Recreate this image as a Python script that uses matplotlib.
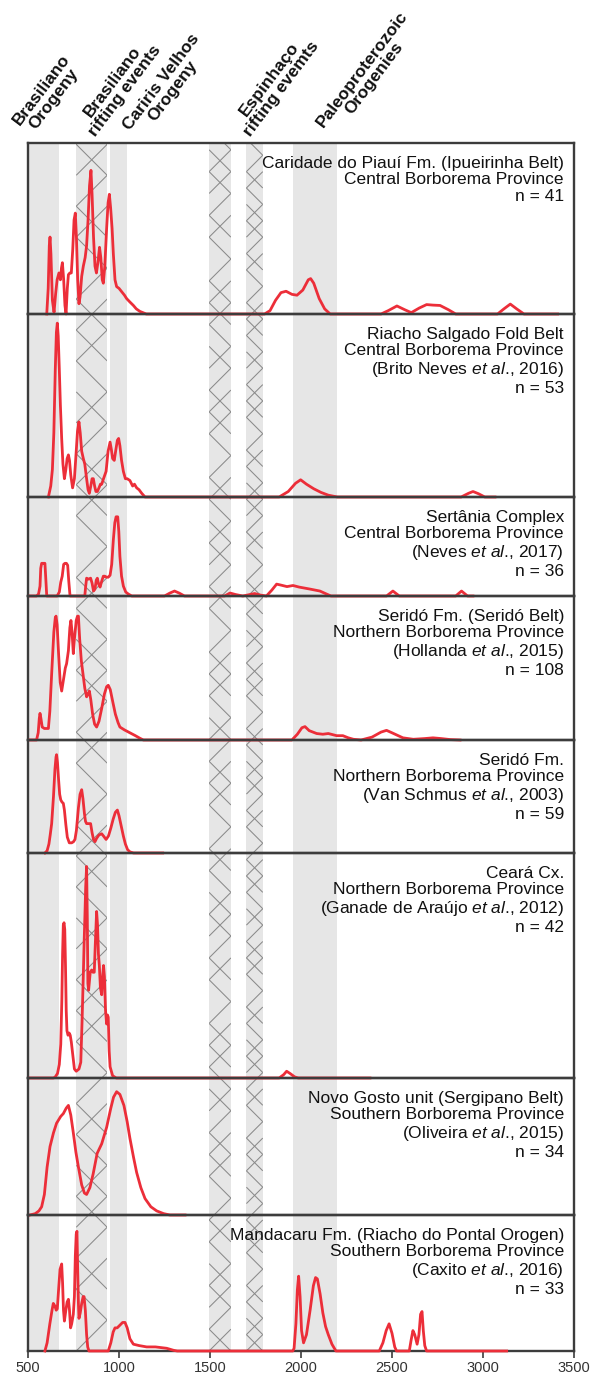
import numpy as np
import matplotlib
matplotlib.use("Agg")
import matplotlib.pyplot as plt
from matplotlib.collections import LineCollection

plt.rcParams['font.family'] = ['Liberation Sans', 'DejaVu Sans']
plt.rcParams['mathtext.fontset'] = 'custom'
plt.rcParams['mathtext.rm'] = 'Liberation Sans'
plt.rcParams['mathtext.it'] = 'Liberation Sans:italic'

# ---------------------------------------------------------------- data
# Probability-density curves (age in Ma, relative density 0-1 of each panel)
caridade_age = [603, 611, 617, 621, 626, 634, 643, 652, 660, 670, 678, 684, 689, 696, 703, 709,
                716, 722, 730, 738, 746, 753, 760, 766, 773, 780, 786, 795, 804, 814, 822, 830,
                838, 846, 852, 860, 868, 876, 884, 893, 900, 908, 914, 922, 932, 940, 947, 954,
                962, 969, 978, 987, 1000, 1015, 1030, 1042, 1060, 1079, 1095, 1115, 1150,
                1800, 1830, 1860, 1890, 1918, 1950, 1978, 2010, 2040, 2053, 2070, 2100, 2130,
                2160, 2440, 2480, 2527, 2570, 2606, 2650, 2690, 2725, 2764, 2810, 2850, 3080,
                3115, 3150, 3185, 3225, 3410]
caridade_den = [0, 0.15, 0.40, 0.45, 0.35, 0.08, 0.01, 0.12, 0.20, 0.24, 0.20, 0.27, 0.30, 0.20,
                0.05, 0.0, 0.15, 0.23, 0.24, 0.24, 0.38, 0.55, 0.59, 0.45, 0.20, 0.06, 0.10, 0.22,
                0.28, 0.33, 0.40, 0.55, 0.75, 0.84, 0.70, 0.45, 0.28, 0.24, 0.30, 0.39, 0.33, 0.20,
                0.18, 0.28, 0.50, 0.65, 0.70, 0.62, 0.50, 0.35, 0.20, 0.16, 0.15, 0.13, 0.11, 0.09,
                0.07, 0.05, 0.03, 0.015, 0.0,
                0, 0.02, 0.08, 0.125, 0.133, 0.115, 0.11, 0.14, 0.20, 0.207, 0.18, 0.09, 0.03,
                0.0, 0, 0.02, 0.047, 0.025, 0.008, 0.035, 0.055, 0.052, 0.05, 0.025, 0.0, 0,
                0.03, 0.058, 0.03, 0.0, 0]

riacho_age = [612, 625, 634, 642, 650, 656, 661, 666, 672, 678, 685, 692, 700, 708, 715, 722,
              728, 735, 745, 755, 765, 772, 780, 787, 795, 804, 812, 822, 830, 837, 845, 852,
              859, 866, 873, 881, 890, 898, 905, 915, 929, 940, 951, 958, 965, 974, 983, 991,
              998, 1005, 1014, 1024, 1035, 1045, 1060, 1075, 1085, 1097, 1110, 1125, 1143,
              1880, 1930, 1970, 1998, 2030, 2070, 2110, 2150, 2200, 2880, 2920, 2945, 2975,
              3010, 3066]
riacho_den = [0, 0.06, 0.15, 0.35, 0.70, 0.90, 0.95, 0.88, 0.70, 0.50, 0.32, 0.18, 0.10, 0.15,
              0.21, 0.23, 0.20, 0.12, 0.05, 0.10, 0.25, 0.36, 0.41, 0.35, 0.25, 0.21, 0.18, 0.10,
              0.04, 0.02, 0.06, 0.10, 0.10, 0.06, 0.03, 0.03, 0.05, 0.07, 0.07, 0.10, 0.14, 0.25,
              0.30, 0.26, 0.21, 0.20, 0.26, 0.31, 0.32, 0.28, 0.20, 0.14, 0.10, 0.10, 0.09, 0.06,
              0.07, 0.05, 0.04, 0.02, 0,
              0, 0.03, 0.075, 0.094, 0.07, 0.045, 0.025, 0.01, 0, 0, 0.02, 0.03, 0.018, 0.0, 0]

sertania_age = [510, 547, 558, 566, 570, 575, 585, 593, 597, 603, 660, 672, 680, 688, 696, 703,
                711, 718, 724, 731, 812, 817, 822, 833, 844, 852, 860, 868, 875, 881, 888, 896,
                905, 914, 922, 932, 941, 951, 960, 969, 977, 984, 993, 999, 1005, 1014, 1024,
                1037, 1051, 1070, 1250, 1280, 1305, 1330, 1360, 1580, 1610, 1640, 1680, 1720,
                1745, 1775, 1810, 1840, 1866, 1890, 1923, 1956, 1990, 2049, 2104, 2140, 2165,
                2470, 2505, 2540, 2850, 2882, 2915, 2945]
sertania_den = [0, 0, 0.02, 0.10, 0.28, 0.33, 0.33, 0.33, 0.20, 0.0, 0, 0.04, 0.14, 0.20, 0.32,
                0.33, 0.33, 0.31, 0.15, 0.0, 0, 0.10, 0.18, 0.17, 0.18, 0.13, 0.05, 0.07, 0.16,
                0.18, 0.12, 0.09, 0.15, 0.20, 0.20, 0.19, 0.19, 0.21, 0.32, 0.57, 0.74, 0.80,
                0.80, 0.65, 0.40, 0.20, 0.10, 0.04, 0.02, 0, 0, 0.03, 0.05, 0.03, 0.0, 0, 0.03,
                0.015, 0, 0.015, 0.025, 0.01, 0, 0.06, 0.12, 0.11, 0.095, 0.106, 0.09, 0.07,
                0.05, 0.02, 0, 0, 0.05, 0.0, 0, 0.05, 0.0, 0]

serido_h_age = [511, 547, 556, 562, 566, 571, 578, 590, 605, 612, 620, 630, 642, 650, 654, 660,
                668, 677, 685, 695, 705, 712, 722, 730, 736, 742, 749, 755, 765, 772, 777, 784,
                793, 804, 812, 822, 830, 837, 845, 855, 866, 877, 890, 905, 920, 932, 941, 952,
                965, 980, 995, 1005, 1030, 1060, 1090, 1115, 1134, 1950, 1980, 2005, 2022, 2045,
                2086, 2120, 2150, 2196, 2230, 2260, 2288, 2330, 2390, 2440, 2470, 2500, 2560,
                2617, 2680, 2725, 2770, 2820, 2874]
serido_h_den = [0, 0, 0.05, 0.15, 0.185, 0.15, 0.09, 0.08, 0.08, 0.08, 0.20, 0.46, 0.75, 0.85,
                0.86, 0.80, 0.60, 0.40, 0.34, 0.42, 0.50, 0.53, 0.62, 0.78, 0.83, 0.75, 0.60,
                0.70, 0.83, 0.86, 0.86, 0.70, 0.55, 0.44, 0.36, 0.30, 0.32, 0.34, 0.28, 0.18,
                0.11, 0.09, 0.13, 0.22, 0.32, 0.37, 0.38, 0.35, 0.27, 0.18, 0.12, 0.09, 0.07,
                0.05, 0.03, 0.012, 0, 0, 0.04, 0.085, 0.093, 0.065, 0.045, 0.04, 0.045, 0.03,
                0.03, 0.015, 0.005, 0, 0.02, 0.055, 0.067, 0.05, 0.015, 0.005, 0.01, 0.015,
                0.01, 0.003, 0]

serido_v_age = [593, 605, 615, 622, 630, 640, 648, 654, 657, 662, 668, 674, 680, 687, 694, 700,
                708, 716, 727, 740, 750, 758, 766, 777, 786, 795, 802, 810, 816, 822, 832, 844,
                852, 860, 868, 877, 890, 905, 915, 929, 942, 955, 968, 980, 991, 1000, 1012,
                1024, 1035, 1047, 1060, 1080, 1240]
serido_v_den = [0, 0.02, 0.08, 0.16, 0.26, 0.50, 0.74, 0.85, 0.87, 0.80, 0.65, 0.52, 0.47,
                0.45, 0.44, 0.38, 0.25, 0.14, 0.09, 0.09, 0.10, 0.12, 0.20, 0.40, 0.52, 0.56,
                0.48, 0.35, 0.28, 0.26, 0.26, 0.26, 0.18, 0.12, 0.10, 0.13, 0.16, 0.17, 0.15,
                0.12, 0.15, 0.22, 0.30, 0.36, 0.38, 0.33, 0.24, 0.15, 0.08, 0.03, 0.01, 0, 0]

ceara_age = [511, 640, 650, 662, 672, 680, 686, 690, 694, 698, 702, 706, 710, 714, 720, 726,
             732, 738, 745, 755, 765, 780, 790, 797, 804, 809, 813, 817, 822, 826, 829, 833,
             842, 850, 857, 864, 870, 877, 882, 887, 892, 898, 905, 910, 915, 920, 926, 932,
             937, 941, 946, 951, 965, 985, 1880, 1905, 1921, 1940, 1965, 1985, 2379]
ceara_den = [0, 0, 0.005, 0.02, 0.06, 0.15, 0.35, 0.55, 0.68, 0.69, 0.66, 0.50, 0.30, 0.21,
             0.19, 0.20, 0.19, 0.16, 0.11, 0.04, 0.03, 0.04, 0.07, 0.25, 0.46, 0.62, 0.73, 0.85,
             0.94, 0.70, 0.42, 0.39, 0.47, 0.48, 0.47, 0.47, 0.60, 0.74, 0.68, 0.55, 0.50, 0.40,
             0.37, 0.45, 0.50, 0.45, 0.30, 0.24, 0.28, 0.27, 0.12, 0.05, 0.01, 0, 0, 0.015,
             0.03, 0.02, 0.005, 0, 0]

novo_gosto_age = [511, 540, 560, 575, 590, 605, 621, 640, 657, 680, 694, 710, 722, 735, 749,
                  763, 777, 795, 810, 822, 840, 858, 880, 905, 932, 955, 970, 987, 1005, 1027,
                  1045, 1060, 1080, 1097, 1120, 1143, 1175, 1207, 1245, 1280, 1363]
novo_gosto_den = [0, 0.01, 0.03, 0.06, 0.15, 0.35, 0.50, 0.60, 0.67, 0.72, 0.74, 0.78, 0.80,
                  0.73, 0.60, 0.46, 0.35, 0.22, 0.16, 0.15, 0.20, 0.30, 0.45, 0.52, 0.64, 0.78,
                  0.86, 0.90, 0.88, 0.80, 0.68, 0.56, 0.42, 0.31, 0.20, 0.12, 0.06, 0.03, 0.01,
                  0, 0]

mandacaru_age = [593, 605, 620, 632, 639, 648, 655, 661, 668, 676, 685, 690, 695, 700, 708, 715,
                 722, 728, 734, 740, 749, 755, 760, 765, 769, 773, 777, 780, 787, 795, 803, 808,
                 815, 822, 828, 835, 941, 955, 968, 978, 990, 1005, 1020, 1033, 1045, 1060, 1079,
                 1110, 1152, 1200, 1262, 1300, 1320, 1955, 1962, 1972, 1980, 1987, 1995, 2003,
                 2014, 2030, 2050, 2068, 2080, 2090, 2105, 2120, 2135, 2150, 2170, 2192, 2430,
                 2450, 2468, 2484, 2500, 2515, 2525, 2595, 2605, 2615, 2625, 2638, 2648, 2657,
                 2665, 2672, 2680, 2690, 3130]
mandacaru_den = [0, 0.06, 0.20, 0.30, 0.35, 0.33, 0.30, 0.31, 0.45, 0.60, 0.64, 0.50, 0.30,
                 0.22, 0.30, 0.36, 0.38, 0.30, 0.17, 0.20, 0.27, 0.40, 0.70, 0.86, 0.88, 0.60,
                 0.35, 0.24, 0.28, 0.35, 0.40, 0.40, 0.30, 0.12, 0.03, 0, 0, 0.06, 0.14, 0.17,
                 0.17, 0.19, 0.21, 0.21, 0.17, 0.09, 0.05, 0.04, 0.03, 0.03, 0.02, 0.005, 0, 0,
                 0.02, 0.20, 0.45, 0.55, 0.40, 0.15, 0.06, 0.12, 0.30, 0.48, 0.54, 0.53, 0.42,
                 0.28, 0.18, 0.12, 0.05, 0, 0, 0.06, 0.15, 0.20, 0.13, 0.03, 0, 0, 0.08, 0.15,
                 0.12, 0.05, 0.12, 0.27, 0.29, 0.15, 0.04, 0, 0]

ETAL = "$\\mathit{et\\ al}$."
panel_titles = [
    "Caridade do Piauí Fm. (Ipueirinha Belt)\nCentral Borborema Province\nn = 41",
    "Riacho Salgado Fold Belt\nCentral Borborema Province\n(Brito Neves " + ETAL + ", 2016)\nn = 53",
    "Sertânia Complex\nCentral Borborema Province\n(Neves " + ETAL + ", 2017)\nn = 36",
    "Seridó Fm. (Seridó Belt)\nNorthern Borborema Province\n(Hollanda " + ETAL + ", 2015)\nn = 108",
    "Seridó Fm.\nNorthern Borborema Province\n(Van Schmus " + ETAL + ", 2003)\nn = 59",
    "Ceará Cx.\nNorthern Borborema Province\n(Ganade de Araújo " + ETAL + ", 2012)\nn = 42",
    "Novo Gosto unit (Sergipano Belt)\nSouthern Borborema Province\n(Oliveira " + ETAL + ", 2015)\nn = 34",
    "Mandacaru Fm. (Riacho do Pontal Orogen)\nSouthern Borborema Province\n(Caxito " + ETAL + ", 2016)\nn = 33",
]
curves = [(caridade_age, caridade_den), (riacho_age, riacho_den),
          (sertania_age, sertania_den), (serido_h_age, serido_h_den),
          (serido_v_age, serido_v_den), (ceara_age, ceara_den),
          (novo_gosto_age, novo_gosto_den), (mandacaru_age, mandacaru_den)]

# Orogenic / rifting intervals (Ma) and whether they are cross-hatched
event_lo = [500, 765, 950, 1495, 1700, 1955]
event_hi = [670, 935, 1045, 1615, 1790, 2200]
event_hatched = [False, True, False, True, True, False]
event_labels = ["Brasiliano\nOrogeny", "Brasiliano\nrifting events", "Cariris Velhos\nOrogeny",
                "Espinhaço\nrifting evemts", "Paleoproterozoic\nOrogenies"]

xticks = [500, 1000, 1500, 2000, 2500, 3000, 3500]

# ---------------------------------------------------------------- layout
W, H = 595, 1382
fig = plt.figure(figsize=(W / 100, H / 100), dpi=100)
x_left, x_right = 28, 574
edges = [143, 314, 497, 596, 740, 853, 1078, 1215, 1351]

RED = '#ec2e39'
FRAME = '#3c3c3c'
BAND = '#e6e6e6'
HATCH = '#8a8a8a'

def fx(px):
    return px / W

def fy(py):
    return 1 - py / H

# background axes holding the event bands across the whole stack
stack_h = edges[-1] - edges[0]
bg = fig.add_axes([fx(x_left), fy(edges[-1]), fx(x_right - x_left), stack_h / H], zorder=0)
bg.set_xlim(500, 3500)
bg.set_ylim(0, stack_h)
bg.axis('off')
ppm = (x_right - x_left) / 3000.0
# worn cross-hatching: a fixed on/off cycle for the diagonal strokes
stroke_cycle = [1, 1, 1, 0, 1, 1, 1, 1, 0, 1, 1, 0, 1, 1, 1, 1, 0]
for lo, hi, hatched in zip(event_lo, event_hi, event_hatched):
    patch = bg.axvspan(lo, hi, color=BAND, lw=0)
    if hatched:
        w = (hi - lo) * ppm
        segs = []
        y = 0.0
        k = int(lo) % 7
        while y < stack_h:
            if stroke_cycle[k % len(stroke_cycle)]:
                segs.append([(lo, y), (hi, y + w)])
            if stroke_cycle[(k + 6) % len(stroke_cycle)]:
                segs.append([(lo, y + w), (hi, y)])
            y += w
            k += 1
        lc = LineCollection(segs, colors=HATCH, linewidths=0.75)
        bg.add_collection(lc)
        lc.set_clip_path(patch)

# panels
for i in range(8):
    top, bot = edges[i], edges[i + 1]
    ax = fig.add_axes([fx(x_left), fy(bot), fx(x_right - x_left), (bot - top) / H], zorder=2)
    ax.patch.set_alpha(0)
    ax.set_xlim(500, 3500)
    ax.set_ylim(0, 1)
    ages, dens = curves[i]
    ax.plot(ages, dens, color=RED, lw=2.0, solid_joinstyle='round', clip_on=False, zorder=5)
    for s in ax.spines.values():
        s.set_color(FRAME)
        s.set_linewidth(1.7)
    ax.set_yticks([])
    if i < 7:
        ax.set_xticks([])
    else:
        ax.set_xticks(xticks)
        ax.tick_params(axis='x', length=5, width=1.2, color=FRAME, labelsize=10.5,
                       labelcolor='#333333', pad=2)
    ax.annotate(panel_titles[i], xy=(1, 1), xycoords='axes fraction',
                xytext=(-10, -13), textcoords='offset pixels', ha='right', va='top',
                fontsize=12.5, linespacing=1.12, color='#111111')

# event names above the stack
label_pos = [(48, 94), (119, 86), (167, 86), (275, 84), (368, 74)]
for txt, (px, py) in zip(event_labels, label_pos):
    fig.text(fx(px), fy(py), txt, rotation=53, rotation_mode='anchor', ha='center',
             va='center', multialignment='center', fontsize=12.5, fontweight='bold',
             linespacing=1.0, color='#111111')

fig.savefig('out.png', dpi=100)
